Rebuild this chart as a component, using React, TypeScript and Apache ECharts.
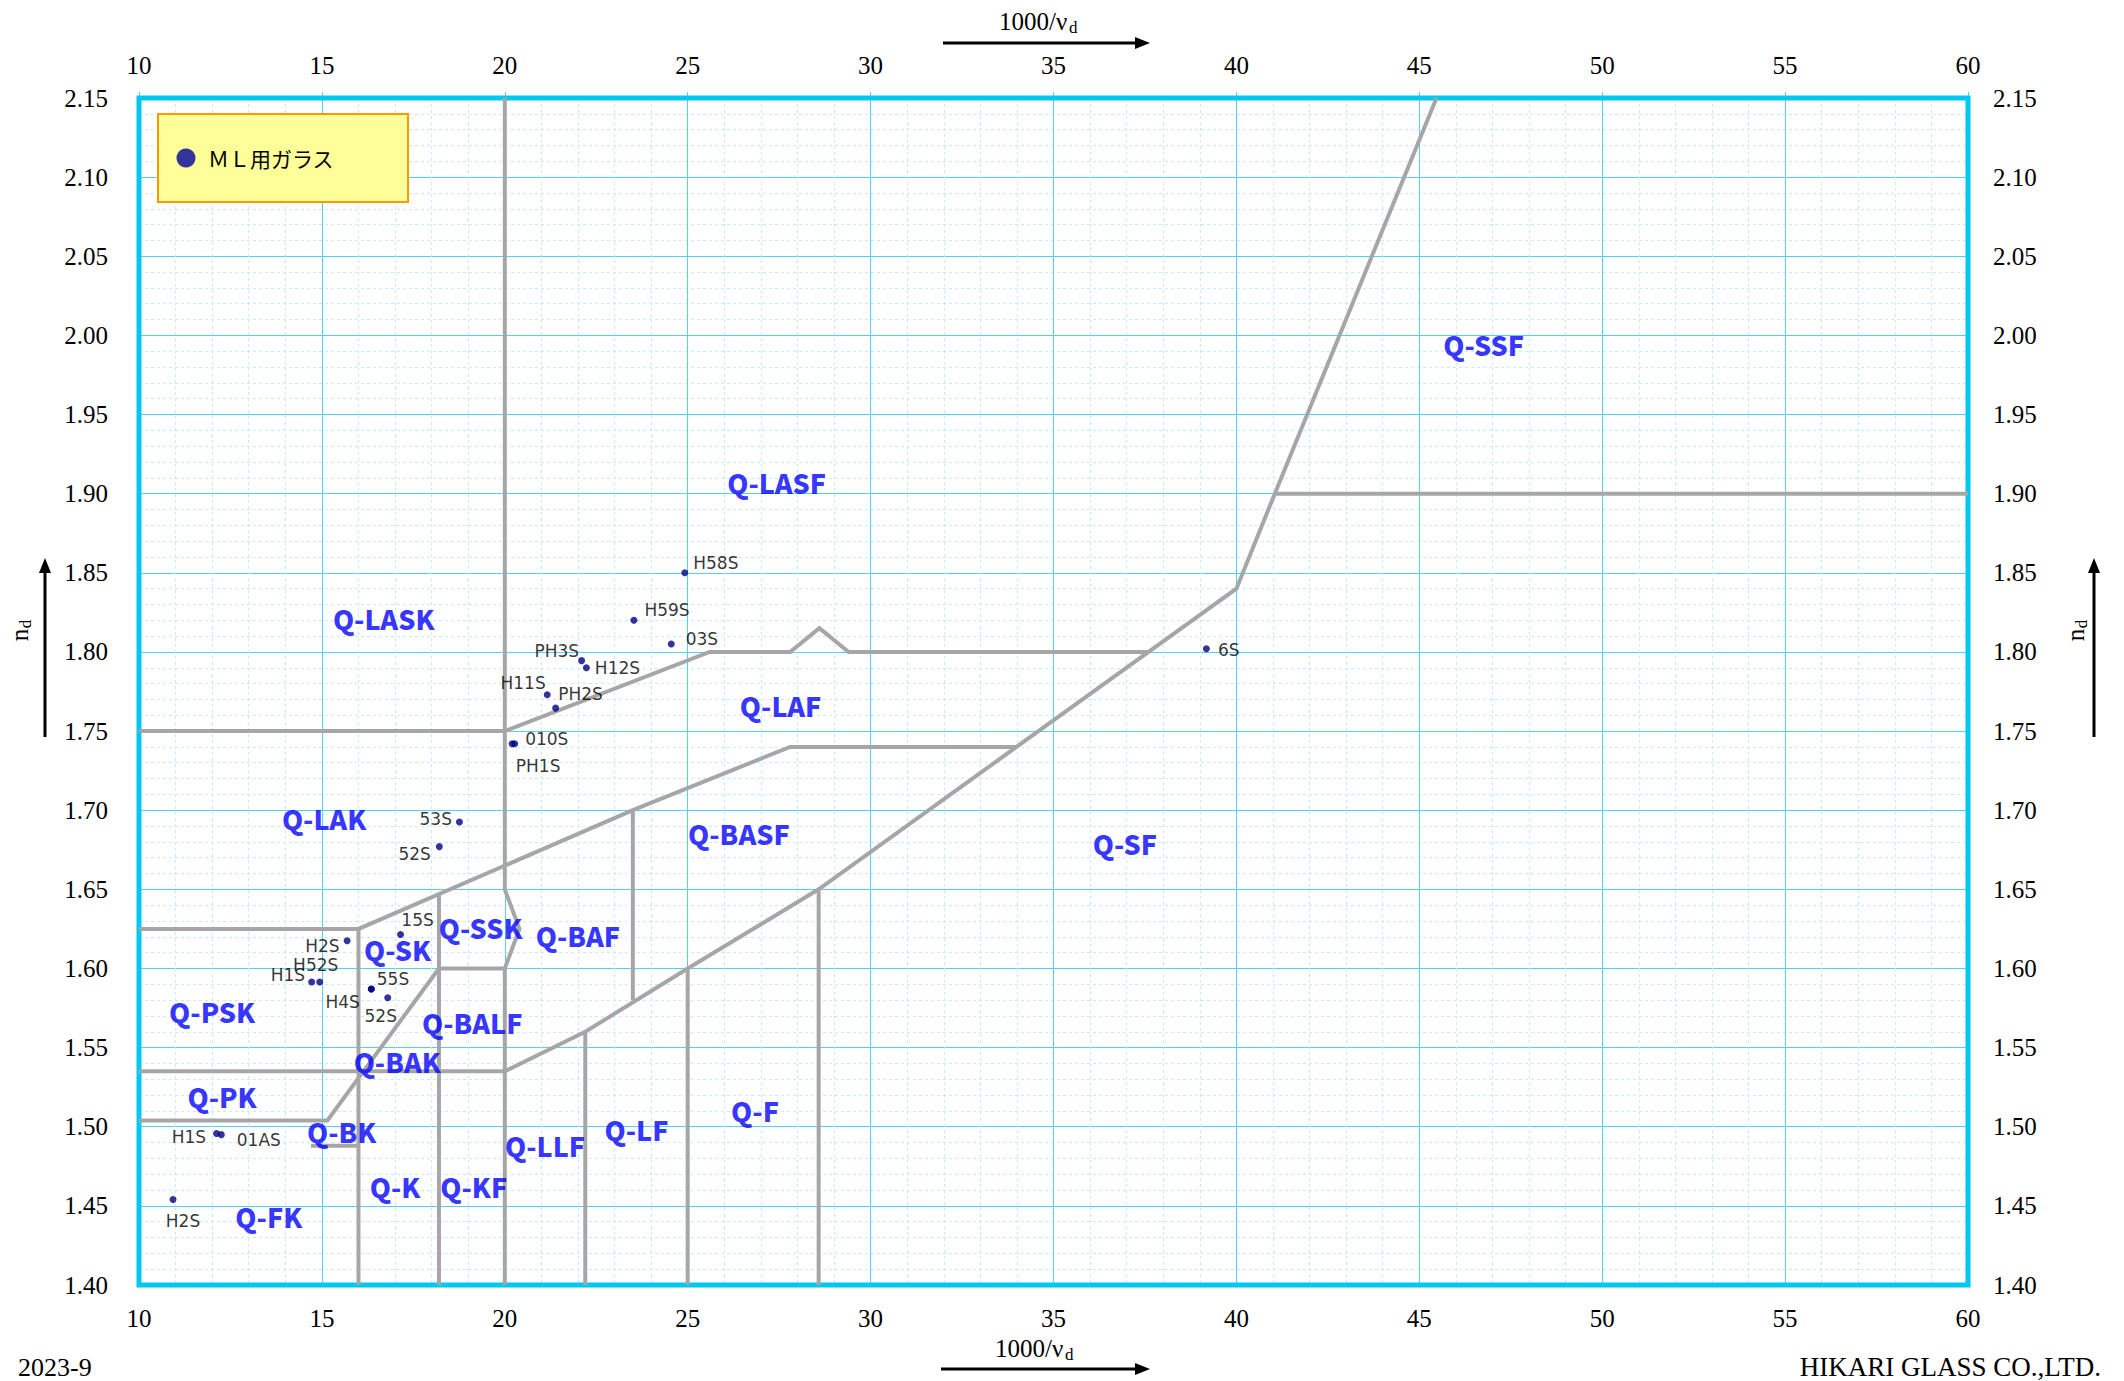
import React, { useEffect, useRef } from 'react';
import * as echarts from 'echarts';

// ---- axes ----
const xMin = 10;
const xMax = 60;
const xStep = 5;
const yMin = 1.4;
const yMax = 2.15;
const yStep = 0.05;

// ---- glass-map boundary polylines [1000/νd, nd] ----
const lineV20 = [[20, 2.15], [20, 1.65], [20.4, 1.625], [20, 1.6], [20, 1.4]];
const lineLaskLasf = [[10, 1.75], [20, 1.75], [25.6, 1.8], [27.8, 1.8], [28.6, 1.815], [29.4, 1.8], [37.6, 1.8]];
const lineSfDiagonal = [[45.47, 2.15], [41.05, 1.9], [40, 1.84], [28.58, 1.65], [25, 1.6], [22.2, 1.56], [20, 1.535], [10, 1.535]];
const lineSsf190 = [[41.05, 1.9], [60, 1.9]];
const lineBasfTop = [[34.0, 1.74], [27.8, 1.74], [23.5, 1.7], [16, 1.625], [10, 1.625]];
const lineV16 = [[16, 1.625], [16, 1.4]];
const lineV182 = [[18.2, 1.647], [18.2, 1.4]];
const lineSskBottom = [[18.2, 1.6], [20, 1.6]];
const linePkBottom = [[10, 1.504], [15.15, 1.504], [18.2, 1.6]];
const lineBkBottom = [[14.7, 1.488], [16, 1.488]];
const lineV235 = [[23.5, 1.7], [23.5, 1.58]];
const lineV222 = [[22.2, 1.56], [22.2, 1.4]];
const lineV25 = [[25, 1.6], [25, 1.4]];
const lineV286 = [[28.58, 1.65], [28.58, 1.4]];
const boundaryLines = [lineV20, lineLaskLasf, lineSfDiagonal, lineSsf190, lineBasfTop, lineV16, lineV182,
  lineSskBottom, linePkBottom, lineBkBottom, lineV235, lineV222, lineV25, lineV286];

// ---- region names ----
const regionNames = ['Q-SSF', 'Q-LASF', 'Q-LASK', 'Q-LAF', 'Q-LAK', 'Q-BASF', 'Q-SF', 'Q-SSK', 'Q-BAF', 'Q-SK', 'Q-PSK',
  'Q-BALF', 'Q-BAK', 'Q-PK', 'Q-F', 'Q-BK', 'Q-LF', 'Q-LLF', 'Q-K', 'Q-KF', 'Q-FK'];
const regionX = [46.76, 27.43, 16.69, 27.54, 15.06, 26.4, 36.95, 19.34, 22.0, 17.07, 12.0,
  19.11, 17.06, 12.27, 26.84, 15.54, 23.6, 21.1, 17.0, 19.15, 13.55];
const regionY = [1.994, 1.907, 1.821, 1.766, 1.695, 1.685, 1.679, 1.626, 1.621, 1.612, 1.573,
  1.566, 1.541, 1.519, 1.510, 1.497, 1.498, 1.488, 1.462, 1.462, 1.443];

// ---- ML glasses ----
const glassNames = ['H58S', 'H59S', '03S', 'PH3S', 'H12S', 'H11S', 'PH2S', '010S', 'PH1S', '53S', '52S', '15S',
  'H2S', 'H1S', 'H52S', '55S', 'H4S', '52S', 'H1S', '01AS', 'H2S', '6S'];
const glassInvNu = [24.92, 23.53, 24.55, 22.1, 22.23, 21.16, 21.39, 20.27, 20.2, 18.76, 18.21, 17.15,
  15.69, 14.72, 14.94, 16.35, 16.35, 16.8, 12.12, 12.25, 10.93, 39.18];
const glassNd = [1.850, 1.820, 1.805, 1.7945, 1.790, 1.773, 1.7645, 1.742, 1.742, 1.6925, 1.677, 1.6215,
  1.6175, 1.5915, 1.5915, 1.587, 1.587, 1.5815, 1.4957, 1.495, 1.454, 1.802];

// label placement (style only)
const glassLabelPos = ['right', 'right', 'right', 'left', 'right', 'left', 'right', 'right', 'bottom', 'left', 'left', 'top',
  'left', 'left', 'top', 'right', 'left', 'bottom', 'left', 'right', 'bottom', 'right'];
const glassLabelOffset = [[0, -10], [2, -10], [6, -5], [6, -10], [0, 0], [7, -12], [-6, -14], [2, -5], [26, 5], [1, -3], [0, 7], [17, 3],
  [1, 5], [2, -7], [-4, 0], [-3, -10], [-3, 13], [-7, 1], [-2, 3], [7, 5], [10, 4], [3, 1]];

const legendLabel = 'ＭＬ用ガラス';
const axisTitle = '1000/ν';
const footLeft = '2023-9';
const footRight = 'HIKARI GLASS CO.,LTD.';

const GRID = { left: 139, top: 98, width: 1829, height: 1187 };
const MAJOR = '#4fd3f0';
const MINOR = '#c6ebfa';
const SERIF = 'Liberation Serif';

function arrowH(x1: number, x2: number, y: number) {
  return [
    { type: 'line', shape: { x1, y1: y, x2: x2 - 8, y2: y }, style: { stroke: '#000', lineWidth: 3 }, z: 50 },
    { type: 'polygon', shape: { points: [[x2, y], [x2 - 15, y - 6], [x2 - 15, y + 6]] }, style: { fill: '#000' }, z: 50 },
  ];
}
function arrowV(x: number, y1: number, y2: number) {
  return [
    { type: 'line', shape: { x1: x, y1, x2: x, y2: y2 + 8 }, style: { stroke: '#000', lineWidth: 3 }, z: 50 },
    { type: 'polygon', shape: { points: [[x, y2], [x - 6, y2 + 15], [x + 6, y2 + 15]] }, style: { fill: '#000' }, z: 50 },
  ];
}
function ndLabel(x: number, y: number) {
  return {
    type: 'group', x, y, rotation: Math.PI / 2, z: 50,
    children: [
      { type: 'text', x: 0, y: 0, style: { text: 'n', fontFamily: SERIF, fontSize: 25, fill: '#000', align: 'center', verticalAlign: 'middle' } },
      { type: 'text', x: 11, y: 6, style: { text: 'd', fontFamily: SERIF, fontSize: 17, fill: '#000', align: 'center', verticalAlign: 'middle' } },
    ],
  };
}
function xTitle(x: number, y: number) {
  return [
    { type: 'text', x, y, style: { text: axisTitle, fontFamily: SERIF, fontSize: 25, fill: '#000', align: 'left', verticalAlign: 'middle' }, z: 50 },
    { type: 'text', x: x + 70, y: y + 6, style: { text: 'd', fontFamily: SERIF, fontSize: 17, fill: '#000', align: 'left', verticalAlign: 'middle' }, z: 50 },
  ];
}

export default function App() {
  const ref = useRef<HTMLDivElement>(null);
  useEffect(() => {
    if (!ref.current) return;
    const chart = echarts.init(ref.current, undefined, { renderer: 'svg' });

    const xLabel = { fontFamily: SERIF, fontSize: 25, color: '#000' };
    const yFmt = (v: number) => v.toFixed(2);

    const option: any = {
      animation: false,
      backgroundColor: '#ffffff',
      grid: { ...GRID, outerBoundsMode: 'none', containLabel: false },
      xAxis: [
        {
          type: 'value', position: 'bottom', min: xMin, max: xMax, interval: xStep,
          axisLine: { show: false }, axisTick: { show: false },
          axisLabel: { ...xLabel, margin: 21 },
          splitLine: { show: true, lineStyle: { color: MAJOR, width: 1 } },
          minorTick: { show: false, splitNumber: 5 },
          minorSplitLine: { show: true, lineStyle: { color: MINOR, width: 1, type: [3, 3] } },
        },
        {
          type: 'value', position: 'top', min: xMin, max: xMax, interval: xStep,
          axisLine: { show: false },
          axisTick: { show: true, inside: false, length: 6, lineStyle: { color: MAJOR, width: 1 } },
          axisLabel: { ...xLabel, margin: 20 },
          splitLine: { show: false },
        },
      ],
      yAxis: [
        {
          type: 'value', position: 'left', min: yMin, max: yMax, interval: yStep,
          axisLine: { show: false }, axisTick: { show: false },
          axisLabel: { ...xLabel, margin: 31, formatter: yFmt },
          splitLine: { show: true, lineStyle: { color: MAJOR, width: 1 } },
          minorTick: { show: false, splitNumber: 5 },
          minorSplitLine: { show: true, lineStyle: { color: MINOR, width: 1, type: [3, 3] } },
        },
        {
          type: 'value', position: 'right', min: yMin, max: yMax, interval: yStep,
          axisLine: { show: false }, axisTick: { show: false },
          axisLabel: { ...xLabel, margin: 25, formatter: yFmt },
          splitLine: { show: false },
        },
      ],
      graphic: [
        { type: 'rect', shape: { x: GRID.left, y: GRID.top, width: GRID.width, height: GRID.height },
          style: { fill: 'none', stroke: '#00c8f0', lineWidth: 5 }, z: 1, silent: true },
        { type: 'rect', shape: { x: 158, y: 114, width: 250, height: 88 },
          style: { fill: '#ffff99', stroke: '#ff9900', lineWidth: 2 }, z: 100 },
        { type: 'circle', shape: { cx: 186, cy: 158, r: 9.5 }, style: { fill: '#333399' }, z: 101 },
        { type: 'text', x: 208, y: 158, style: { text: legendLabel, fontFamily: 'Noto Sans CJK JP', fontSize: 21, fill: '#000', align: 'left', verticalAlign: 'middle' }, z: 101 },
        ...xTitle(999, 21),
        ...arrowH(943, 1150, 43),
        ...xTitle(995, 1348),
        ...arrowH(941, 1150, 1369),
        ndLabel(19, 635),
        ndLabel(2075, 635),
        ...arrowV(45, 737, 558),
        ...arrowV(2094, 737, 558),
        { type: 'text', x: 18, y: 1367, style: { text: footLeft, fontFamily: SERIF, fontSize: 26, fill: '#000', align: 'left', verticalAlign: 'middle' }, z: 50 },
        { type: 'text', x: 2101, y: 1367, style: { text: footRight, fontFamily: SERIF, fontSize: 27, fill: '#000', align: 'right', verticalAlign: 'middle' }, z: 50 },
      ],
      series: [
        ...boundaryLines.map((pts) => ({
          type: 'line', data: pts, symbol: 'none', showSymbol: false, silent: true, z: 3,
          lineStyle: { color: '#a6a6a6', width: 4, join: 'miter' },
          xAxisIndex: 0, yAxisIndex: 0,
        })),
        {
          type: 'scatter', z: 5, silent: true, symbolSize: 1,
          itemStyle: { color: 'rgba(0,0,0,0)' },
          data: regionNames.map((n, i) => ({ name: n, value: [regionX[i], regionY[i]] })),
          label: { show: true, position: 'inside', formatter: '{b}', color: '#0000ff', fontWeight: 900, fontFamily: 'Noto Sans CJK JP', fontSize: 27 },
        },
        {
          type: 'scatter', z: 6, symbol: 'circle', symbolSize: 7,
          itemStyle: { color: '#000080' },
          data: glassNames.map((n, i) => ({
            name: n, value: [glassInvNu[i], glassNd[i]],
            label: { position: glassLabelPos[i], offset: glassLabelOffset[i] },
          })),
          label: { show: true, formatter: '{b}', color: '#000', fontFamily: 'DejaVu Sans', fontSize: 17, distance: 5 },
        },
      ],
    };
    chart.setOption(option);
    return () => chart.dispose();
  }, []);
  return <div ref={ref} style={{ position: 'absolute', left: 0, top: 0, width: 2124, height: 1381, background: '#fff' }} />;
}
